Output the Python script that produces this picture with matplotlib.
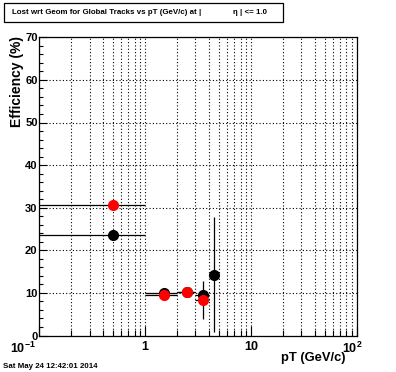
import matplotlib
matplotlib.use("Agg")
import matplotlib.pyplot as plt
import matplotlib.transforms as mtransforms
import numpy as np
from matplotlib.patches import Rectangle
from matplotlib.ticker import FixedLocator, NullFormatter, LogLocator

plt.rcParams['font.family'] = ['Liberation Sans', 'DejaVu Sans']
plt.rcParams['font.weight'] = 'bold'
plt.rcParams['mathtext.fontset'] = 'custom'
plt.rcParams['mathtext.rm'] = 'Liberation Sans:bold'
plt.rcParams['mathtext.bf'] = 'Liberation Sans:bold'

# pT bins (GeV/c)
pt_lo = [0.1, 1.0, 2.0, 3.0, 4.0]
pt_hi = [1.0, 2.0, 3.0, 4.0, 5.0]
pt_mid = [0.5, 1.5, 2.5, 3.5, 4.5]

# black series
eff_black = [23.6, 10.0, 10.3, 9.6, 14.3]
err_black = [0.3, 0.6, 0.6, 0.8, 13.4]

# red series (last bin empty)
eff_red = [30.6, 9.4, 10.1, 8.3, np.nan]
err_red = [0.3, 0.6, 0.6, 4.4, np.nan]

x_ticks = [0.1, 1, 10, 100]
x_ticklabels = [r'$\mathbf{10^{-1}}$', '1', '10', r'$\mathbf{10^{2}}$']

W, H = 396, 372
fig = plt.figure(figsize=(W / 100, H / 100), dpi=100)
ax = fig.add_axes([39 / W, 1 - 335.5 / H, (356.7 - 39) / W, (335.5 - 37.3) / H])

xl = np.array(pt_mid) - np.array(pt_lo)
xh = np.array(pt_hi) - np.array(pt_mid)

ax.errorbar(pt_mid, eff_black, xerr=[xl, xh], yerr=err_black, fmt='o',
            color='black', ms=7, elinewidth=0.9, capsize=0, zorder=3)
ax.errorbar(pt_mid, eff_red, xerr=[xl, xh], yerr=err_red, fmt='o',
            color='red', mec='red', ecolor='black', ms=7, elinewidth=0.9,
            capsize=0, zorder=4)

ax.set_xscale('log')
ax.set_xlim(0.1, 100)
ax.set_ylim(0, 70)

ax.set_xticks(x_ticks)
ax.set_xticklabels(x_ticklabels)
ax.xaxis.set_minor_locator(LogLocator(base=10, subs=np.arange(2, 10)))
ax.xaxis.set_minor_formatter(NullFormatter())
ax.set_yticks(np.arange(0, 71, 10))
ax.yaxis.set_minor_locator(FixedLocator(np.arange(0, 71, 2)))

ax.tick_params(which='both', direction='in', top=False, right=False, width=0.8)
ax.tick_params(axis='x', which='major', length=7, pad=4, labelsize=9)
ax.tick_params(axis='x', which='minor', length=4)
ax.tick_params(axis='y', which='major', length=6, pad=1, labelsize=8)
ax.tick_params(axis='y', which='minor', length=3)

# shift the exponent labels left like the original
shifts = [-16, 0, 0, -4]
for lab, dx in zip(ax.get_xticklabels(), shifts):
    lab.set_transform(lab.get_transform() +
                      mtransforms.ScaledTranslation(dx / 100, 0, fig.dpi_scale_trans))

ax.grid(True, which='major', axis='both', color='black', linestyle=(0, (1, 2)), linewidth=0.8)
ax.grid(True, which='minor', axis='x', color='black', linestyle=(0, (1, 2)), linewidth=0.8)
for s in ax.spines.values():
    s.set_linewidth(0.9)

ax.set_ylabel('Efficiency (%)', fontsize=10, fontweight='bold', loc='top')
ax.yaxis.set_label_coords(-0.046, 1.005)
ax.set_xlabel('pT (GeV/c)', fontsize=9.3, fontweight='bold', loc='right')
ax.xaxis.set_label_coords(0.965, -0.054)

# title box
fig.patches.append(Rectangle((4 / W, 1 - 22 / H), (283 - 4) / W, 19 / H,
                             transform=fig.transFigure, fill=True, facecolor='white',
                             edgecolor='black', linewidth=0.9))
fig.text(12 / W, 1 - 13 / H, 'Lost wrt Geom for Global Tracks vs pT (GeV/c) at |',
         fontsize=5.7, fontweight='bold', va='center', ha='left')
fig.text(233 / W, 1 - 13 / H, 'η | <= 1.0', fontsize=5.7, fontweight='bold',
         va='center', ha='left')

fig.text(3 / W, 1 - 366 / H, 'Sat May 24 12:42:01 2014', fontsize=5.7,
         fontweight='bold', va='center', ha='left')

fig.savefig('out.png', dpi=100)
